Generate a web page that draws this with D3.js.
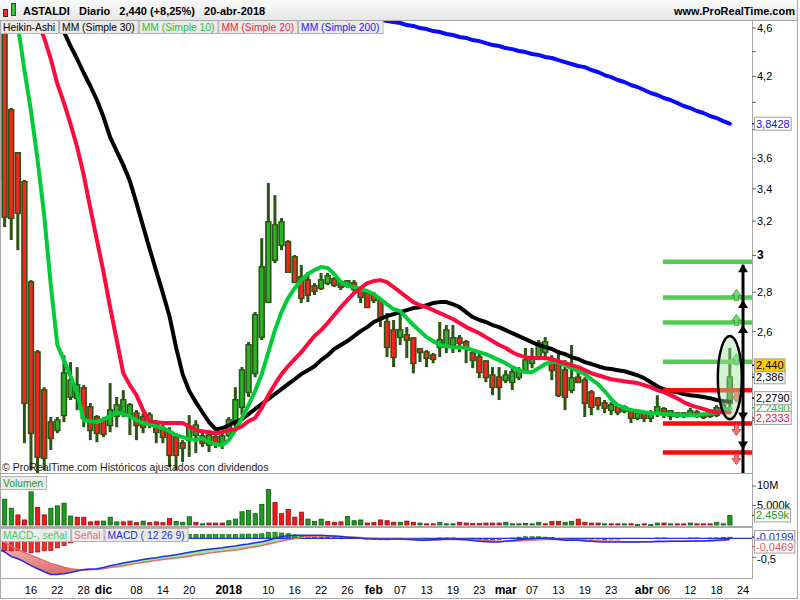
<!DOCTYPE html>
<html>
<head>
<meta charset="utf-8">
<script src="https://cdn.jsdelivr.net/npm/d3@7/dist/d3.min.js"></script>
<style>
html,body{margin:0;padding:0;background:#fff;}
svg{display:block;font-family:"Liberation Sans",Arial,sans-serif;}
</style>
</head>
<body>
<svg id="chart" width="800" height="600"></svg>
<script>
// ================= DATA =================
const dates = [
"2017-11-09","2017-11-10","2017-11-13","2017-11-14","2017-11-15","2017-11-16","2017-11-17","2017-11-20","2017-11-21","2017-11-22",
"2017-11-23","2017-11-24","2017-11-27","2017-11-28","2017-11-29","2017-11-30","2017-12-01","2017-12-04","2017-12-05","2017-12-06",
"2017-12-07","2017-12-08","2017-12-11","2017-12-12","2017-12-13","2017-12-14","2017-12-15","2017-12-18","2017-12-19","2017-12-20",
"2017-12-21","2017-12-22","2017-12-27","2017-12-28","2017-12-29","2018-01-02","2018-01-03","2018-01-04","2018-01-05","2018-01-08",
"2018-01-09","2018-01-10","2018-01-11","2018-01-12","2018-01-15","2018-01-16","2018-01-17","2018-01-18","2018-01-19","2018-01-22",
"2018-01-23","2018-01-24","2018-01-25","2018-01-26","2018-01-29","2018-01-30","2018-01-31","2018-02-01","2018-02-02","2018-02-05",
"2018-02-06","2018-02-07","2018-02-08","2018-02-09","2018-02-12","2018-02-13","2018-02-14","2018-02-15","2018-02-16","2018-02-19",
"2018-02-20","2018-02-21","2018-02-22","2018-02-23","2018-02-26","2018-02-27","2018-02-28","2018-03-01","2018-03-02","2018-03-05",
"2018-03-06","2018-03-07","2018-03-08","2018-03-09","2018-03-12","2018-03-13","2018-03-14","2018-03-15","2018-03-16","2018-03-19",
"2018-03-20","2018-03-21","2018-03-22","2018-03-23","2018-03-26","2018-03-27","2018-03-28","2018-03-29","2018-04-03","2018-04-04",
"2018-04-05","2018-04-06","2018-04-09","2018-04-10","2018-04-11","2018-04-12","2018-04-13","2018-04-16","2018-04-17","2018-04-18",
"2018-04-19","2018-04-20"];
const futureDates = ["2018-04-23","2018-04-24"];

// Heikin-Ashi candles
const haOpen = [4.583,4.566,3.943,3.637,3.444,2.853,2.501,2.329,2.193,2.160,
 2.222,2.299,2.294,2.338,2.256,2.214,2.201,2.180,2.218,2.234,
 2.222,2.230,2.214,2.185,2.193,2.168,2.152,2.132,2.108,2.120,
 2.140,2.136,2.101,2.132,2.104,2.140,2.189,2.256,2.320,2.404,
 2.573,2.748,2.974,3.059,3.076,2.991,2.881,2.864,2.832,2.821,
 2.848,2.870,2.853,2.832,2.848,2.811,2.795,2.785,2.758,2.647,
 2.607,2.573,2.583,2.568,2.516,2.501,2.487,2.525,2.525,2.535,
 2.568,2.549,2.497,2.478,2.459,2.395,2.386,2.373,2.364,2.386,
 2.418,2.450,2.478,2.501,2.464,2.450,2.418,2.329,2.386,2.373,
 2.320,2.294,2.273,2.243,2.256,2.239,2.243,2.210,2.230,2.210,
 2.234,2.248,2.218,2.230,2.218,2.222,2.234,2.226,2.218,2.222,
 2.234,2.273];
const haHigh = [4.652,4.626,3.958,3.643,3.457,2.864,2.511,2.342,2.214,2.214,
 2.487,2.455,2.432,2.351,2.273,2.222,2.214,2.360,2.299,2.329,
 2.273,2.243,2.230,2.234,2.201,2.189,2.172,2.148,2.120,2.222,
 2.201,2.148,2.160,2.140,2.148,2.214,2.342,2.432,2.549,2.697,
 3.099,3.438,3.360,3.218,3.088,3.002,2.946,2.908,2.848,2.903,
 2.903,2.881,2.864,2.864,2.864,2.821,2.811,2.800,2.769,2.692,
 2.657,2.692,2.622,2.573,2.521,2.511,2.497,2.647,2.632,2.632,
 2.583,2.559,2.511,2.497,2.464,2.432,2.432,2.418,2.432,2.432,
 2.521,2.521,2.559,2.573,2.487,2.511,2.464,2.535,2.418,2.386,
 2.329,2.299,2.286,2.277,2.264,2.264,2.252,2.234,2.234,2.243,
 2.307,2.256,2.243,2.234,2.234,2.252,2.243,2.230,2.234,2.264,
 2.277,2.521];
const haLow = [3.329,3.164,3.088,3.030,2.108,2.004,1.993,2.004,2.081,2.148,
 2.193,2.286,2.243,2.172,2.120,2.112,2.132,2.152,2.172,2.214,
 2.140,2.120,2.148,2.168,2.108,2.108,2.015,2.004,2.034,2.054,
 2.069,2.093,2.073,2.089,2.085,2.132,2.172,2.222,2.299,2.386,
 2.559,2.743,2.957,3.030,2.903,2.848,2.743,2.748,2.785,2.811,
 2.837,2.827,2.811,2.821,2.800,2.743,2.717,2.743,2.622,2.478,
 2.432,2.535,2.474,2.404,2.455,2.432,2.450,2.478,2.497,2.497,
 2.501,2.450,2.427,2.382,2.364,2.307,2.286,2.360,2.329,2.373,
 2.404,2.427,2.464,2.464,2.373,2.299,2.243,2.316,2.360,2.214,
 2.222,2.243,2.230,2.222,2.222,2.230,2.189,2.201,2.193,2.193,
 2.214,2.210,2.201,2.210,2.210,2.214,2.210,2.205,2.210,2.214,
 2.230,2.243];
const haClose = [3.457,3.224,3.218,3.249,2.273,2.148,2.054,2.050,2.128,2.201,
 2.404,2.373,2.351,2.210,2.160,2.148,2.144,2.243,2.264,2.286,
 2.264,2.180,2.172,2.222,2.152,2.132,2.061,2.061,2.089,2.172,
 2.180,2.108,2.140,2.104,2.136,2.201,2.286,2.418,2.535,2.682,
 2.935,3.194,3.176,3.194,2.908,2.853,2.769,2.785,2.806,2.864,
 2.886,2.837,2.827,2.859,2.816,2.774,2.722,2.758,2.672,2.525,
 2.478,2.607,2.559,2.450,2.501,2.474,2.469,2.559,2.607,2.568,
 2.544,2.521,2.464,2.409,2.386,2.342,2.342,2.395,2.409,2.418,
 2.464,2.478,2.544,2.549,2.418,2.307,2.299,2.382,2.364,2.273,
 2.256,2.264,2.252,2.264,2.234,2.256,2.210,2.230,2.210,2.226,
 2.256,2.226,2.239,2.218,2.230,2.239,2.218,2.214,2.230,2.252,
 2.264,2.386];

// Moving averages (aligned to the last dates)
const mm10 = [4.626,4.251,3.936,3.589,3.236,2.837,2.535,2.464,2.391,2.316,
 2.201,2.197,2.193,2.205,2.218,2.234,2.226,2.218,2.201,2.189,
 2.185,2.176,2.168,2.156,2.140,2.132,2.124,2.120,2.128,2.112,
 2.104,2.100,2.120,2.160,2.210,2.264,2.325,2.400,2.501,2.607,
 2.697,2.769,2.821,2.864,2.897,2.919,2.935,2.930,2.897,2.853,
 2.832,2.827,2.816,2.806,2.790,2.764,2.737,2.712,2.702,2.667,
 2.632,2.602,2.573,2.554,2.535,2.530,2.525,2.525,2.521,2.511,
 2.501,2.492,2.478,2.464,2.450,2.432,2.418,2.409,2.409,2.427,
 2.446,2.455,2.455,2.441,2.427,2.413,2.400,2.377,2.355,2.325,
 2.290,2.264,2.252,2.243,2.239,2.234,2.230,2.230,2.226,2.226,
 2.222,2.222,2.222,2.222,2.226,2.230,2.234,2.243,2.249];
const mm20 = [4.652,4.515,4.340,4.141,3.996,3.840,3.678,3.489,3.279,3.088,
 2.908,2.722,2.559,2.404,2.351,2.307,2.243,2.197,2.193,2.189,
 2.189,2.189,2.189,2.176,2.160,2.156,2.152,2.148,2.152,2.160,
 2.164,2.176,2.197,2.210,2.252,2.307,2.355,2.400,2.436,2.469,
 2.501,2.540,2.578,2.607,2.642,2.682,2.722,2.758,2.795,2.821,
 2.848,2.859,2.864,2.853,2.827,2.800,2.774,2.748,2.732,2.722,
 2.707,2.692,2.677,2.662,2.642,2.622,2.607,2.592,2.573,2.554,
 2.535,2.521,2.501,2.487,2.478,2.474,2.474,2.474,2.469,2.459,
 2.450,2.441,2.432,2.418,2.404,2.395,2.386,2.377,2.373,2.368,
 2.364,2.360,2.351,2.342,2.329,2.320,2.307,2.294,2.277,2.264,
 2.256,2.248,2.239,2.234,2.234,2.2333];
const mm30 = [4.686,4.566,4.447,4.340,4.227,4.125,4.018,3.891,3.747,3.650,
 3.555,3.450,3.310,3.170,3.036,2.913,2.795,2.677,2.525,2.400,
 2.325,2.277,2.234,2.193,2.164,2.168,2.180,2.193,2.205,2.226,
 2.248,2.269,2.290,2.312,2.333,2.355,2.377,2.400,2.418,2.436,
 2.464,2.487,2.516,2.535,2.554,2.578,2.602,2.622,2.647,2.662,
 2.677,2.687,2.697,2.707,2.717,2.722,2.732,2.743,2.748,2.748,
 2.737,2.722,2.697,2.672,2.657,2.647,2.632,2.622,2.607,2.592,
 2.578,2.563,2.549,2.535,2.525,2.516,2.501,2.492,2.478,2.469,
 2.455,2.446,2.436,2.427,2.423,2.418,2.413,2.404,2.395,2.382,
 2.364,2.346,2.333,2.325,2.320,2.312,2.307,2.303,2.299,2.294,
 2.286,2.282,2.279];
const mm200 = [4.677,4.661,4.652,4.644,4.626,4.618,4.600,4.591,4.574,4.566,
 4.549,4.540,4.523,4.515,4.497,4.488,4.472,4.455,4.447,4.430,
 4.421,4.406,4.397,4.381,4.373,4.356,4.348,4.331,4.315,4.299,
 4.283,4.274,4.251,4.235,4.211,4.195,4.172,4.156,4.133,4.117,
 4.094,4.071,4.056,4.033,4.018,3.996,3.973,3.958,3.936,3.921,
 3.899,3.884,3.862,3.8428];

// Volume (thousands) and direction (1 = up day)
const volume = [5000,6600,4300,2600,1300,8500,4500,2600,4300,4900,
 5600,2300,2000,2000,800,1000,1000,2000,800,800,
 1000,600,1000,600,800,600,1700,900,700,2100,
 700,300,500,500,500,1100,1500,3400,3700,2900,
 5300,9100,5800,2900,4000,2000,3300,1500,900,1500,
 900,700,800,2200,1100,1300,500,600,1300,1100,
 700,700,1000,700,500,300,300,700,300,300,
 700,500,400,400,500,500,500,700,300,300,
 400,300,700,300,900,900,700,900,1500,700,
 500,500,300,300,300,300,300,100,300,100,
 500,500,300,300,300,500,300,300,300,700,
 300,2459];
const volUp = [1,1,1,0,0,1,0,0,1,1, 1,1,0,0,0,0,1,1,1,0, 0,0,1,0,0,0,0,1,1,1,
 0,1,0,0,0,1,1,1,1,1, 1,1,0,0,0,0,0,1,1,1, 0,0,0,1,1,1,0,0,0,0,
 0,1,0,0,1,0,0,1,1,1, 0,0,0,0,0,0,0,1,1,1, 1,1,1,0,0,0,1,1,0,0,
 0,0,1,0,0,1,0,1,0,1, 1,0,1,0,0,1,0,0,0,1, 1,1];

// MACD (12 26 9)
const macd = [-0.28,-0.36,-0.48,-0.54,-0.62,-0.72,-0.80,-0.88,-0.95,-0.95,
 -0.93,-0.90,-0.86,-0.82,-0.81,-0.80,-0.77,-0.72,-0.69,-0.65,
 -0.62,-0.59,-0.56,-0.53,-0.51,-0.48,-0.46,-0.43,-0.40,-0.37,
 -0.34,-0.31,-0.29,-0.27,-0.25,-0.22,-0.20,-0.17,-0.15,-0.12,
 -0.09,-0.05,0.00,0.05,0.07,0.08,0.08,0.08,0.08,0.08,
 0.07,0.06,0.05,0.03,0.02,0.00,-0.02,-0.02,-0.02,-0.02,
 -0.02,-0.02,-0.03,-0.04,-0.05,-0.05,-0.04,-0.03,-0.02,-0.02,
 -0.03,-0.04,-0.06,-0.08,-0.09,-0.10,-0.10,-0.08,-0.06,-0.04,
 -0.02,-0.01,0.00,0.00,-0.01,-0.03,-0.05,-0.05,-0.05,-0.07,
 -0.08,-0.09,-0.10,-0.10,-0.10,-0.10,-0.10,-0.10,-0.09,-0.09,
 -0.08,-0.08,-0.08,-0.08,-0.08,-0.07,-0.07,-0.07,-0.06,-0.05,
 -0.04,-0.0199];
const signal = [-0.04,-0.10,-0.20,-0.29,-0.37,-0.45,-0.52,-0.59,-0.66,-0.71,
 -0.76,-0.80,-0.82,-0.84,-0.83,-0.82,-0.80,-0.77,-0.75,-0.72,
 -0.69,-0.66,-0.63,-0.61,-0.58,-0.56,-0.54,-0.52,-0.50,-0.47,
 -0.44,-0.42,-0.39,-0.37,-0.35,-0.33,-0.31,-0.28,-0.25,-0.22,
 -0.19,-0.15,-0.11,-0.07,-0.04,-0.01,0.02,0.04,0.06,0.06,
 0.06,0.05,0.05,0.04,0.03,0.02,0.01,0.00,-0.01,-0.02,
 -0.02,-0.02,-0.02,-0.03,-0.03,-0.04,-0.04,-0.04,-0.03,-0.03,
 -0.03,-0.03,-0.04,-0.05,-0.06,-0.07,-0.08,-0.08,-0.08,-0.07,
 -0.06,-0.05,-0.04,-0.03,-0.03,-0.03,-0.03,-0.04,-0.04,-0.05,
 -0.06,-0.07,-0.07,-0.08,-0.08,-0.09,-0.09,-0.09,-0.09,-0.09,
 -0.09,-0.09,-0.08,-0.08,-0.08,-0.08,-0.08,-0.07,-0.07,-0.06,
 -0.06,-0.0469];
const hist = [-0.30,-0.32,-0.33,-0.32,-0.36,-0.38,-0.36,-0.33,-0.32,-0.25,
 -0.19,-0.12,-0.06,0.00,0.02,0.03,0.04,0.05,0.06,0.07,
 0.07,0.07,0.07,0.08,0.08,0.08,0.08,0.09,0.09,0.10,
 0.10,0.10,0.10,0.10,0.10,0.10,0.10,0.11,0.11,0.11,
 0.12,0.16,0.16,0.14,0.12,0.09,0.06,0.05,0.04,0.03,
 0.02,0.02,0.02,0.02,0.02,0.01,-0.01,-0.03,-0.04,-0.04,
 -0.03,-0.03,-0.03,-0.02,-0.01,-0.01,0.00,0.01,0.01,0.01,
 0.00,-0.01,-0.02,-0.03,-0.04,-0.04,-0.03,-0.01,0.01,0.03,
 0.04,0.04,0.04,0.03,0.02,0.00,-0.02,-0.01,-0.01,-0.02,
 -0.02,-0.02,-0.03,-0.02,-0.02,-0.01,-0.01,-0.01,0.00,0.00,
 0.01,0.01,0.00,0.00,0.00,0.01,0.01,0.00,0.01,0.01,
 0.02,0.03];

// Drawing-tool levels (targets)
const greenLevels = [2.965, 2.772, 2.645, 2.457];
const redLevels = [2.328, 2.187, 2.071];
const levelsFrom = "2018-04-06";
const arrowDate = "2018-04-24";
const blockArrowDate = "2018-04-23";
const ellipseDate = "2018-04-20";
const ellipseRange = [2.205, 2.578];

// Axis ticks (labels hidden behind value boxes are left empty, as in the original)
const priceTicks = [4.6, 4.4, 4.2, 4.0, 3.8, 3.6, 3.4, 3.2, 3.0, 2.8, 2.6, 2.4, 2.2];
const priceTickLabels = ["4,6", "", "4,2", "", "", "3,6", "3,4", "3,2", "3", "2,8", "2,6", "", ""];
const volTicks = [10000, 5000];
const volTickLabels = ["10M", "5.000k"];
const macdTicks = [-0.5];
const macdTickLabels = ["-0,5"];
const dateTicks = ["2017-11-16","2017-11-22","2017-11-28","2017-12-01","2017-12-08","2017-12-14","2017-12-20","2018-01-02","2018-01-10","2018-01-16","2018-01-22","2018-01-26","2018-02-01","2018-02-07","2018-02-13","2018-02-19","2018-02-23","2018-03-01","2018-03-07","2018-03-13","2018-03-19","2018-03-23","2018-04-03","2018-04-06","2018-04-12","2018-04-18","2018-04-24"];
const dateTickLabels = ["16","22","28","dic","08","14","20","2018","10","16","22","26","feb","07","13","19","23","mar","07","13","19","23","abr","06","12","18","24"];
const dateTickBold = [0,0,0,1,0,0,0,1,0,0,0,0,1,0,0,0,0,1,0,0,0,0,1,0,0,0,0];

// Last-value markers on the price axis
const priceMarkers = [
  {v: 3.8428, t: "3,8428", color: "#1010ee", bg: "#fff"},
  {v: 2.249, t: "2,2490", color: "#22bb33", bg: "#fff"},
  {v: 2.279, t: "2,2790", color: "#000", bg: "#fff"},
  {v: 2.2333, t: "2,2333", color: "#ee1133", bg: "#fff"},
  {v: 2.386, t: "2,386", color: "#000", bg: "#fff"},
  {v: 2.440, t: "2,440", color: "#000", bg: "#ffc800"}
];
const markerNudge = {"2,2790": -3.5, "2,2333": 5.5, "2,2490": -1};

// ================= LAYOUT =================
const svg = d3.select("#chart");
const AX = 752, RB = 797;
const P = {top: 20, bot: 473};
const V = {top: 474, bot: 526};
const M = {top: 527, bot: 578};
const LBL = 10.3;
const allDates = dates.concat(futureDates);
const x = d3.scalePoint().domain(allDates).range([-1.97, 743]);
const yP = d3.scaleLog().domain([1.993, 4.670]).range([P.bot, P.top]);
const yV = d3.scaleLinear().domain([0, 10000]).range([525, 486]);
const yM = d3.scaleLinear().domain([-0.5, 0]).range([557.3, 538.3]);

const DK = "#2b5513", GFILL = "#28b428", RFILL = "#ff2020";

const defs = svg.append("defs");
function clip(id, x0, y0, w, h) {
  defs.append("clipPath").attr("id", id).append("rect").attr("x", x0).attr("y", y0).attr("width", w).attr("height", h);
}
clip("cP", 1, P.top + 1, AX - 1, P.bot - P.top - 1);
clip("cV", 1, V.top, AX - 1, V.bot - V.top);
clip("cM", 1, M.top + 1, AX - 1, M.bot - M.top - 1);
const hg = defs.append("linearGradient").attr("id", "hdr").attr("x1", 0).attr("y1", 0).attr("x2", 0).attr("y2", 1);
hg.append("stop").attr("offset", 0).attr("stop-color", "#fbfbfb");
hg.append("stop").attr("offset", 1).attr("stop-color", "#e6e6e6");
const rg = defs.append("linearGradient").attr("id", "redfill").attr("x1", 0).attr("y1", 0).attr("x2", 0).attr("y2", 1);
rg.append("stop").attr("offset", 0).attr("stop-color", "#fbd0d0");
rg.append("stop").attr("offset", 1).attr("stop-color", "#e06a6a");

svg.append("rect").attr("width", 800).attr("height", 600).attr("fill", "#fff");

// ---------- header ----------
svg.append("rect").attr("x", 0).attr("y", 0).attr("width", RB).attr("height", 20).attr("fill", "url(#hdr)");
svg.append("rect").attr("x", 3.5).attr("y", 9.5).attr("width", 4).attr("height", 7).attr("fill", "#e83030").attr("stroke", "#6a1a1a");
svg.append("rect").attr("x", 11.5).attr("y", 3.5).attr("width", 4).attr("height", 12).attr("fill", "#36c436").attr("stroke", "#1a5a1a");
svg.append("text").attr("x", 23).attr("y", 15).attr("font-size", 11).attr("font-weight", "bold")
  .attr("xml:space", "preserve").text("ASTALDI   Diario   2,440 (+8,25%)   20-abr-2018");
svg.append("text").attr("x", 795).attr("y", 15).attr("font-size", 11).attr("font-weight", "bold")
  .attr("text-anchor", "end").text("www.ProRealTime.com");

// ---------- price panel ----------
const gP = svg.append("g").attr("clip-path", "url(#cP)");
dates.forEach((d, i) => {
  const cx = x(d);
  const o = haOpen[i], c = haClose[i], h = haHigh[i], l = haLow[i];
  gP.append("rect").attr("x", cx - 1.5).attr("y", yP(h)).attr("width", 3)
    .attr("height", Math.max(1, yP(l) - yP(h))).attr("fill", DK);
  const top = yP(Math.max(o, c)), bot = yP(Math.min(o, c));
  gP.append("rect").attr("x", cx - 3.2).attr("y", top - 1).attr("width", 6.4)
    .attr("height", Math.max(3, bot - top + 2)).attr("fill", DK);
  if (bot - top > 1.2) {
    gP.append("rect").attr("x", cx - 1.6).attr("y", top + 0.4).attr("width", 3.2)
      .attr("height", bot - top - 0.8).attr("fill", c >= o ? GFILL : RFILL);
  }
});

function series(arr) {
  const s = dates.length - arr.length;
  return arr.map((v, i) => [dates[s + i], v]);
}
const line = d3.line().x(d => x(d[0])).y(d => yP(d[1]));
[[mm30, "#000000"], [mm10, "#00cc3a"], [mm20, "#ff0a3c"], [mm200, "#0a0aff"]].forEach(([arr, col]) => {
  gP.append("path").attr("d", line(series(arr))).attr("fill", "none").attr("stroke", col)
    .attr("stroke-width", 4).attr("stroke-linejoin", "round").attr("stroke-linecap", "round");
});

// drawing tools
const lvX0 = x(levelsFrom) - 1;
greenLevels.forEach(v => {
  gP.append("line").attr("x1", lvX0).attr("x2", AX).attr("y1", yP(v)).attr("y2", yP(v))
    .attr("stroke", "#52cc52").attr("stroke-width", 4.5);
});
redLevels.forEach(v => {
  gP.append("line").attr("x1", lvX0).attr("x2", AX).attr("y1", yP(v)).attr("y2", yP(v))
    .attr("stroke", "#ff0a0a").attr("stroke-width", 4.5);
});
const bx = x(blockArrowDate);
function blockArrow(yBase, up, fill, stroke) {
  const s = up ? -1 : 1;
  const pts = [[-2, 0], [-2, 5 * s], [-4.5, 5 * s], [0, 11 * s], [4.5, 5 * s], [2, 5 * s], [2, 0]]
    .map(p => [bx + p[0], yBase + p[1]]);
  gP.append("polygon").attr("points", pts.map(p => p.join(",")).join(" "))
    .attr("fill", fill).attr("stroke", stroke).attr("stroke-width", 0.8).attr("fill-opacity", 0.9);
}
greenLevels.slice(1).forEach(v => blockArrow(yP(v) + 3, true, "#66d466", "#3a9a3a"));
redLevels.forEach(v => blockArrow(yP(v) + 1, false, "#ee6060", "#c04040"));
const ax = x(arrowDate);
gP.append("line").attr("x1", ax).attr("x2", ax).attr("y1", yP(greenLevels[0]) + 3).attr("y2", P.bot)
  .attr("stroke", "#000").attr("stroke-width", 3);
function head(yTip, up) {
  const s = up ? 1 : -1;
  gP.append("polygon").attr("points", [[ax, yTip], [ax - 5, yTip + 8 * s], [ax + 5, yTip + 8 * s]].map(p => p.join(",")).join(" "))
    .attr("fill", "#000");
}
greenLevels.slice(0, 3).forEach(v => head(yP(v) + 2.5, true));
redLevels.slice(1).forEach(v => head(yP(v) - 3, false));
const eTop = yP(ellipseRange[1]), eBot = yP(ellipseRange[0]);
gP.append("ellipse").attr("cx", x(ellipseDate)).attr("cy", (eTop + eBot) / 2).attr("rx", 12).attr("ry", (eBot - eTop) / 2)
  .attr("fill", "#9fe39f").attr("fill-opacity", 0.45).attr("stroke", "#000").attr("stroke-width", 2.5);

svg.append("text").attr("x", 2).attr("y", 471).attr("font-size", 10.6).attr("fill", "#222")
  .text("© ProRealTime.com Históricos ajustados con dividendos");

function labelBox(x0, y0, txt, col) {
  const t = svg.append("text").attr("x", x0 + 3).attr("y", y0 + 10.5).attr("font-size", LBL).attr("fill", col).text(txt);
  const w = t.node().getComputedTextLength() + 6;
  svg.insert("rect", () => t.node()).attr("x", x0 + 0.5).attr("y", y0 + 0.5).attr("width", w).attr("height", 13)
    .attr("fill", "#ebebeb").attr("stroke", "#b4b4b4");
  return x0 + w + 1;
}
let lx = 0;
lx = labelBox(lx, 20, "Heikin-Ashi", "#000");
lx = labelBox(lx, 20, "MM (Simple 30)", "#000");
lx = labelBox(lx, 20, "MM (Simple 10)", "#22c040");
lx = labelBox(lx, 20, "MM (Simple 20)", "#ff1a40");
lx = labelBox(lx, 20, "MM (Simple 200)", "#1a1aff");

// ---------- volume panel ----------
const gV = svg.append("g").attr("clip-path", "url(#cV)");
dates.forEach((d, i) => {
  const cx = x(d);
  const up = volUp[i] === 1;
  gV.append("rect").attr("x", cx - 2).attr("y", yV(volume[i])).attr("width", 4.2)
    .attr("height", Math.max(1, yV(0) - yV(volume[i])))
    .attr("fill", up ? "#1f9a1f" : "#ee1a1a").attr("stroke", up ? "#0d5a0d" : "#9a0d0d").attr("stroke-width", 0.8);
});
labelBox(0, 476, "Volumen", "#1a9a1a");

// ---------- MACD panel ----------
const gM = svg.append("g").attr("clip-path", "url(#cM)");
const mPts = dates.map((d, i) => ({d, m: macd[i], s: signal[i]}));
gM.append("path").attr("fill", "url(#redfill)")
  .attr("d", d3.area().x(p => x(p.d)).y0(p => yM(p.s)).y1(p => yM(Math.min(p.m, p.s)))(mPts));
gM.append("path").attr("fill", "#9ae89a")
  .attr("d", d3.area().x(p => x(p.d)).y0(p => yM(p.s)).y1(p => yM(Math.max(p.m, p.s)))(mPts));
dates.forEach((d, i) => {
  const cx = x(d), v = hist[i];
  if (v === 0) return;
  const y0 = yM(0), y1 = yM(v);
  gM.append("rect").attr("x", cx - 2).attr("y", Math.min(y0, y1)).attr("width", 4.2).attr("height", Math.abs(y1 - y0))
    .attr("fill", v > 0 ? "#22a822" : "#ee3030").attr("stroke", v > 0 ? "#0d6a0d" : "#a01010").attr("stroke-width", 0.7);
});
gM.append("line").attr("x1", 0).attr("x2", AX).attr("y1", yM(0)).attr("y2", yM(0)).attr("stroke", "#2233dd").attr("stroke-width", 1.2);
gM.append("path").attr("fill", "none").attr("stroke", "#e86a6a").attr("stroke-width", 1.5)
  .attr("d", d3.line().x(p => x(p.d)).y(p => yM(p.s))(mPts));
gM.append("path").attr("fill", "none").attr("stroke", "#2030e0").attr("stroke-width", 1.5)
  .attr("d", d3.line().x(p => x(p.d)).y(p => yM(p.m))(mPts));
lx = labelBox(0, 528, "MACD-, señal", "#4ccc4c");
lx = labelBox(lx, 528, "Señal", "#e07070");
lx = labelBox(lx, 528, "MACD ( 12 26 9)", "#2030e0");

// ---------- frame lines ----------
const frame = svg.append("g").attr("stroke", "#a8a8a8").attr("stroke-width", 1).attr("shape-rendering", "crispEdges");
frame.append("line").attr("x1", 0).attr("x2", RB).attr("y1", 20.5).attr("y2", 20.5);
[P.bot + 0.5, V.bot + 0.5, M.top + 0.5, M.bot + 0.5].forEach(y => frame.append("line").attr("x1", 0).attr("x2", AX).attr("y1", y).attr("y2", y));
frame.append("line").attr("x1", 0).attr("x2", RB).attr("y1", 598.5).attr("y2", 598.5);
frame.append("line").attr("x1", AX + 0.5).attr("x2", AX + 0.5).attr("y1", 20).attr("y2", M.bot + 1);
frame.append("line").attr("x1", 0.5).attr("x2", 0.5).attr("y1", 20).attr("y2", 599);
frame.append("line").attr("x1", RB + 0.5).attr("x2", RB + 0.5).attr("y1", 0).attr("y2", 599);

// ---------- right axes ----------
const gA = svg.append("g").attr("font-size", 11);
priceTicks.forEach((v, i) => {
  const y = yP(v);
  gA.append("line").attr("x1", AX).attr("x2", AX + 4).attr("y1", y).attr("y2", y).attr("stroke", "#666");
  if (priceTickLabels[i]) gA.append("text").attr("x", AX + 5).attr("y", y + 4)
    .attr("font-weight", v === 3 ? "bold" : "normal").attr("font-size", v === 3 ? 12 : 11).text(priceTickLabels[i]);
});
volTicks.forEach((v, i) => {
  const y = yV(v);
  gA.append("line").attr("x1", AX).attr("x2", AX + 4).attr("y1", y).attr("y2", y).attr("stroke", "#666");
  gA.append("text").attr("x", AX + 5).attr("y", y + 3).text(volTickLabels[i]);
});
macdTicks.forEach((v, i) => {
  const y = yM(v);
  gA.append("line").attr("x1", AX).attr("x2", AX + 4).attr("y1", y).attr("y2", y).attr("stroke", "#666");
  gA.append("text").attr("x", AX + 5).attr("y", y + 5.5).text(macdTickLabels[i]);
});
function valueBox(yc, txt, col, bg) {
  gA.append("line").attr("x1", AX).attr("x2", AX + 4).attr("y1", yc).attr("y2", yc).attr("stroke", col).attr("stroke-width", 1.5);
  const t = gA.append("text").attr("x", AX + 4).attr("y", yc + 4).attr("fill", col).text(txt);
  const w = t.node().getComputedTextLength() + 3;
  gA.insert("rect", () => t.node()).attr("x", AX + 2.5).attr("y", yc - 6.5).attr("width", w).attr("height", 13)
    .attr("fill", bg).attr("stroke", "#a0a0a0");
}
priceMarkers.forEach(m => valueBox(yP(m.v) + (markerNudge[m.t] || 0), m.t, m.color, m.bg));
valueBox(yV(volume[volume.length - 1]), "2.459k", "#1a9a1a", "#fff");
valueBox(yM(macd[macd.length - 1]) - 2, "-0,0199", "#2030e0", "#fff");
valueBox(yM(macd[macd.length - 1]) + 7.5, "-0,0469", "#e05a5a", "#fff");

// ---------- date axis ----------
dateTicks.forEach((d, i) => {
  svg.append("text").attr("x", x(d)).attr("y", 594).attr("text-anchor", "middle")
    .attr("font-size", dateTickBold[i] ? 12 : 11).attr("font-weight", dateTickBold[i] ? "bold" : "normal")
    .text(dateTickLabels[i]);
});
</script>
</body>
</html>
